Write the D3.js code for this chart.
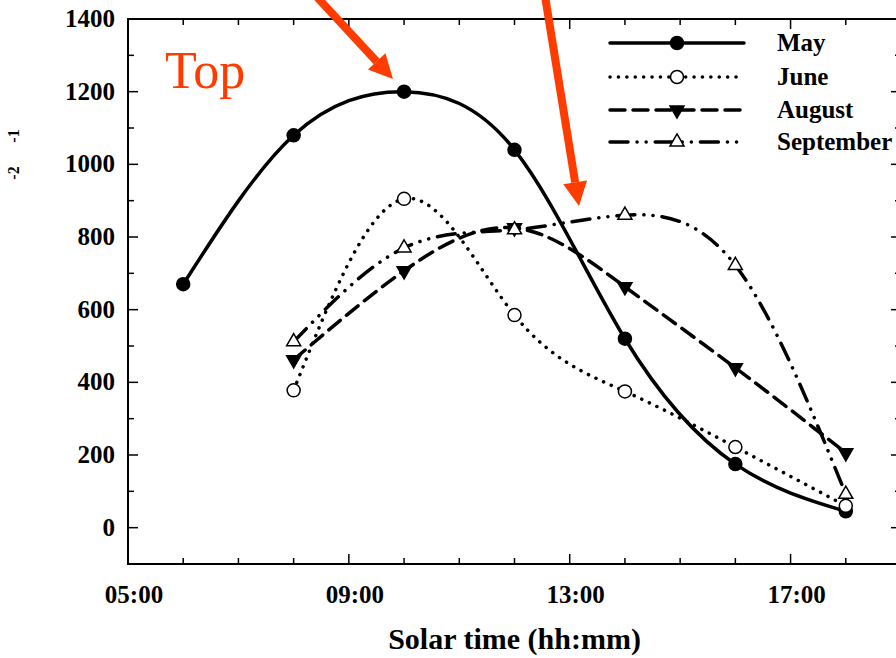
<!DOCTYPE html>
<html>
<head>
<meta charset="utf-8">
<script src="https://cdn.jsdelivr.net/npm/d3@7"></script>
<style>
  body { margin: 0; background: #fff; }
  text { font-family: "Liberation Serif", "Times New Roman", serif; }
</style>
</head>
<body>
<div id="graph"></div>
<script>
// hours of solar time and values per month
const mayHours = [6, 8, 10, 12, 14, 16, 18];
const mayValues = [670, 1080, 1200, 1040, 520, 175, 45];
const juneHours = [8, 10, 12, 14, 16, 18];
const juneValues = [378, 905, 585, 375, 222, 60];
const augustHours = [8, 10, 12, 14, 16, 18];
const augustValues = [462, 707, 825, 663, 440, 206];
const septemberHours = [8, 10, 12, 14, 16, 18];
const septemberValues = [512, 770, 820, 860, 722, 92];

const monthNames = ["May", "June", "August", "September"];
const xTickHours = [5, 9, 13, 17];
const yTickValues = [0, 200, 400, 600, 800, 1000, 1200, 1400];

const width = 896, height = 658;
const margin = {left: 128, top: 19, right: 901, bottom: 564};
const red = "#ff3c00";

let svg = d3.select("#graph")
    .append("svg")
    .attr("width", width)
    .attr("height", height);

let x = d3.scaleLinear().domain([5, 19]).range([margin.left, margin.right]);
let y = d3.scaleLinear().domain([-100, 1400]).range([margin.bottom, margin.top]);

let fmtHour = function(h) { return d3.format("02d")(h) + ":00"; };

// frame
svg.append("rect")
    .attr("x", margin.left).attr("y", margin.top)
    .attr("width", margin.right - margin.left)
    .attr("height", margin.bottom - margin.top)
    .attr("fill", "none").attr("stroke", "#000").attr("stroke-width", 2);

// ticks, all pointing inwards
let hourTicks = d3.range(5, 20);
let valueTicks = d3.range(-100, 1401, 100);
function tickLen(major) { return major ? 10 : 6; }

svg.append("g").selectAll("line").data(hourTicks).enter().append("line")
    .attr("x1", d => x(d)).attr("x2", d => x(d))
    .attr("y1", margin.bottom)
    .attr("y2", d => margin.bottom - tickLen(xTickHours.includes(d)))
    .attr("stroke", "#000").attr("stroke-width", 1.5);
svg.append("g").selectAll("line").data(hourTicks).enter().append("line")
    .attr("x1", d => x(d)).attr("x2", d => x(d))
    .attr("y1", margin.top)
    .attr("y2", d => margin.top + tickLen(xTickHours.includes(d)))
    .attr("stroke", "#000").attr("stroke-width", 1.5);
svg.append("g").selectAll("line").data(valueTicks).enter().append("line")
    .attr("y1", d => y(d)).attr("y2", d => y(d))
    .attr("x1", margin.left)
    .attr("x2", d => margin.left + tickLen(yTickValues.includes(d)))
    .attr("stroke", "#000").attr("stroke-width", 1.5);
svg.append("g").selectAll("line").data(valueTicks).enter().append("line")
    .attr("y1", d => y(d)).attr("y2", d => y(d))
    .attr("x1", margin.right)
    .attr("x2", d => margin.right - tickLen(yTickValues.includes(d)))
    .attr("stroke", "#000").attr("stroke-width", 1.5);

// tick labels
svg.append("g").selectAll("text").data(xTickHours).enter().append("text")
    .attr("x", d => x(d) + 6)
    .attr("y", 603)
    .style("text-anchor", "middle")
    .style("font-size", "25px").style("font-weight", 700)
    .text(d => fmtHour(d));

svg.append("g").selectAll("text").data(yTickValues).enter().append("text")
    .attr("x", 115)
    .attr("y", d => y(d) + 8)
    .style("text-anchor", "end")
    .style("font-size", "25px").style("font-weight", 700)
    .text(d => d);

svg.append("text")
    .attr("x", (margin.left + margin.right) / 2)
    .attr("y", 649)
    .style("text-anchor", "middle")
    .style("font-size", "30px").style("font-weight", 700)
    .text("Solar time (hh:mm)");

// what is left of the y axis title
svg.append("text")
    .attr("transform", "translate(19, 136) rotate(-90)")
    .style("text-anchor", "middle")
    .style("font-size", "16px").style("font-weight", 700)
    .text("-1");
svg.append("text")
    .attr("transform", "translate(19, 173) rotate(-90)")
    .style("text-anchor", "middle")
    .style("font-size", "16px").style("font-weight", 700)
    .text("-2");

// series
let series = [
    {name: "May", hours: mayHours, values: mayValues, dash: null, marker: "fullCircle"},
    {name: "June", hours: juneHours, values: juneValues, dash: "0.1 8.3", marker: "openCircle"},
    {name: "August", hours: augustHours, values: augustValues, dash: "15 8", marker: "downTriangle"},
    {name: "September", hours: septemberHours, values: septemberValues, dash: "18 9 0.1 9 0.1 9", marker: "upTriangle"}
];

let line = d3.line()
    .x(d => x(d[0]))
    .y(d => y(d[1]))
    .curve(d3.curveNatural);

function drawMarker(g, kind, cx, cy) {
    if (kind === "fullCircle" || kind === "openCircle") {
        g.append("circle")
            .attr("cx", cx).attr("cy", cy).attr("r", 6.5)
            .attr("fill", kind === "fullCircle" ? "#000" : "#fff")
            .attr("stroke", "#000").attr("stroke-width", 1.5);
    } else {
        g.append("path")
            .attr("d", d3.symbol().type(d3.symbolTriangle).size(85)())
            .attr("transform", `translate(${cx},${cy})` + (kind === "downTriangle" ? " rotate(180)" : ""))
            .attr("fill", kind === "downTriangle" ? "#000" : "#fff")
            .attr("stroke", "#000").attr("stroke-width", 1.5);
    }
}

let lines = svg.append("g");
series.forEach(function(s) {
    lines.append("path")
        .datum(s.hours.map((h, i) => [h, s.values[i]]))
        .attr("d", line)
        .attr("fill", "none")
        .attr("stroke", "#000")
        .attr("stroke-width", 3.5)
        .attr("stroke-linecap", "round")
        .attr("stroke-dasharray", s.dash);
});
let marks = svg.append("g");
series.forEach(function(s) {
    s.hours.forEach(function(h, i) {
        drawMarker(marks, s.marker, x(h), y(s.values[i]));
    });
});

// legend
let legendY = [43, 77, 110, 142];
let legend = svg.append("g");
series.forEach(function(s, i) {
    legend.append("line")
        .attr("x1", 610).attr("x2", 744)
        .attr("y1", legendY[i]).attr("y2", legendY[i])
        .attr("stroke", "#000").attr("stroke-width", 3.5)
        .attr("stroke-linecap", "round")
        .attr("stroke-dasharray", s.dash);
    drawMarker(legend, s.marker, 677, legendY[i]);
    legend.append("text")
        .attr("x", 777).attr("y", legendY[i] + 8)
        .style("font-size", "25px").style("font-weight", 700)
        .text(s.name);
});

// annotation
svg.append("text")
    .attr("x", 165).attr("y", 88)
    .style("font-size", "52px")
    .style("fill", red)
    .text("Top");

function arrow(x0, y0, x1, y1) {
    let a = Math.atan2(y1 - y0, x1 - x0);
    let headLen = 24, headHalf = 12;
    let bx = x1 - headLen * Math.cos(a), by = y1 - headLen * Math.sin(a);
    svg.append("line")
        .attr("x1", x0).attr("y1", y0).attr("x2", bx).attr("y2", by)
        .attr("stroke", red).attr("stroke-width", 8);
    let px = -Math.sin(a) * headHalf, py = Math.cos(a) * headHalf;
    svg.append("path")
        .attr("d", `M${x1},${y1}L${bx + px},${by + py}L${bx - px},${by - py}Z`)
        .attr("fill", red);
}
arrow(316, -4, 393, 79);
arrow(545, -4, 579, 206);
</script>
</body>
</html>
